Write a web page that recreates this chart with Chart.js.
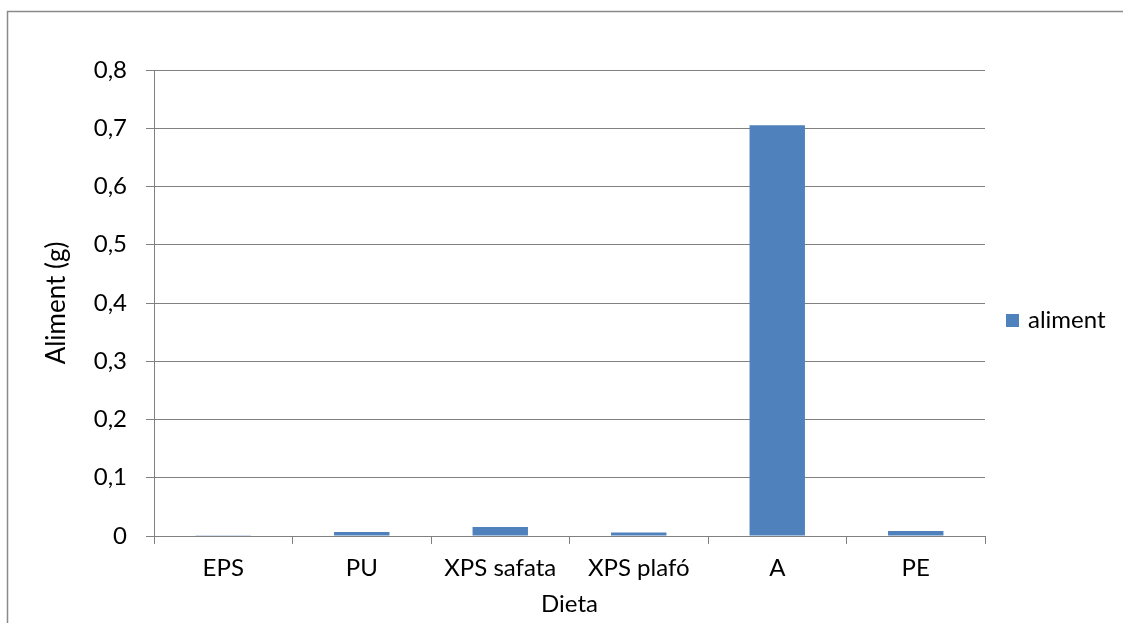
<!DOCTYPE html>
<html>
<head>
<meta charset="utf-8">
<title>Aliment per dieta</title>
<script src="https://cdn.jsdelivr.net/npm/chart.js@4/dist/chart.umd.min.js"></script>
<style>
  html, body { margin: 0; padding: 0; background: #ffffff; overflow: hidden; }
  #wrap { position: relative; width: 1123px; height: 623px; }
</style>
</head>
<body>
<div id="wrap"><canvas id="chart" width="1123" height="623"></canvas></div>
<script>
// Food consumed per diet (grams)
const categories = ['EPS', 'PU', 'XPS safata', 'XPS plafó', 'A', 'PE'];
const alimentValues = [0.0005, 0.007, 0.0155, 0.006, 0.705, 0.0085];
const yTickLabels = ['0', '0,1', '0,2', '0,3', '0,4', '0,5', '0,6', '0,7', '0,8'];
const seriesName = 'aliment';
const xTitle = 'Dieta';
const yTitle = 'Aliment (g)';

const FONT = 'Lato, "Open Sans", sans-serif';
const BAR_COLOR = '#4f81bd';
const LINE_COLOR = '#808080';

// Outer frame of the chart object (top and left edges)
const framePlugin = {
  id: 'frame',
  beforeDraw(chart) {
    const ctx = chart.ctx;
    ctx.save();
    ctx.strokeStyle = '#8a8a8a';
    ctx.lineWidth = 1.5;
    ctx.beginPath();
    ctx.moveTo(7.5, chart.height);
    ctx.lineTo(7.5, 11.5);
    ctx.lineTo(chart.width, 11.5);
    ctx.stroke();
    ctx.restore();
  }
};

// Legend on the right, built from the dataset
const sideLegend = {
  id: 'sideLegend',
  afterDraw(chart) {
    const ctx = chart.ctx;
    const area = chart.chartArea;
    ctx.save();
    chart.data.datasets.forEach((ds, i) => {
      const y = 320 + i * 30;
      const x = area.right + 21;
      ctx.fillStyle = ds.backgroundColor;
      ctx.fillRect(x, y - 6, 13, 13);
      ctx.fillStyle = '#000';
      ctx.font = '24px ' + FONT;
      ctx.textBaseline = 'middle';
      ctx.textAlign = 'left';
      ctx.fillText(ds.label, x + 22, y);
    });
    ctx.restore();
  }
};

new Chart(document.getElementById('chart'), {
  type: 'bar',
  data: {
    labels: categories,
    datasets: [{
      label: seriesName,
      data: alimentValues,
      backgroundColor: BAR_COLOR,
      borderWidth: 0,
      barPercentage: 0.4,
      categoryPercentage: 1.0
    }]
  },
  options: {
    responsive: false,
    animation: false,
    layout: { padding: { left: 0, top: 70, right: 138, bottom: 0 } },
    plugins: {
      legend: { display: false },
      tooltip: { enabled: false }
    },
    scales: {
      x: {
        grid: {
          display: true,
          drawOnChartArea: false,
          drawTicks: true,
          tickLength: 8,
          color: LINE_COLOR,
          offset: true
        },
        border: { display: true, color: LINE_COLOR, width: 1 },
        ticks: {
          color: '#000',
          font: { family: FONT, size: 24 },
          padding: 10,
          maxRotation: 0,
          autoSkip: false
        },
        title: {
          display: true,
          text: xTitle,
          color: '#000',
          font: { family: FONT, size: 24 },
          padding: { top: 0, bottom: 4 }
        },
        afterFit(scale) { scale.height = 87; }
      },
      y: {
        min: 0,
        max: 0.8,
        grid: {
          color: LINE_COLOR,
          lineWidth: 1,
          drawTicks: true,
          tickLength: 8
        },
        border: { display: true, color: LINE_COLOR, width: 1 },
        ticks: {
          stepSize: 0.1,
          color: '#000',
          font: { family: FONT, size: 24 },
          padding: 19,
          callback: (v, i) => yTickLabels[i]
        },
        title: {
          display: true,
          text: yTitle,
          color: '#000',
          font: { family: FONT, size: 26 },
          padding: { top: 41, bottom: 0 }
        },
        afterFit(scale) { scale.width = 154; }
      }
    }
  },
  plugins: [framePlugin, sideLegend]
});
</script>
</body>
</html>
